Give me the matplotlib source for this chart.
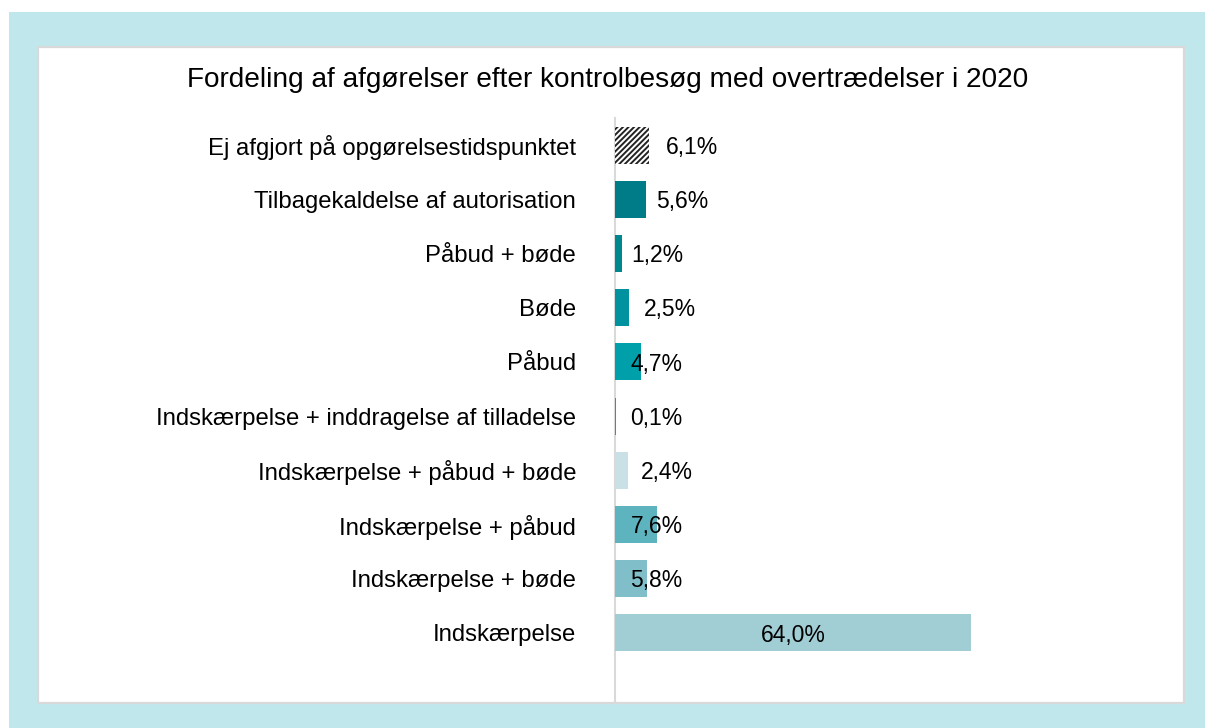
import matplotlib
matplotlib.use("Agg")
import matplotlib.pyplot as plt
from matplotlib.patches import Rectangle

plt.rcParams['font.family'] = ['Liberation Sans', 'DejaVu Sans']
plt.rcParams['hatch.linewidth'] = 1.4

title = "Fordeling af afgørelser efter kontrolbesøg med overtrædelser i 2020"
categories = [
    "Ej afgjort på opgørelsestidspunktet",
    "Tilbagekaldelse af autorisation",
    "Påbud + bøde",
    "Bøde",
    "Påbud",
    "Indskærpelse + inddragelse af tilladelse",
    "Indskærpelse + påbud + bøde",
    "Indskærpelse + påbud",
    "Indskærpelse + bøde",
    "Indskærpelse",
]
values = [6.1, 5.6, 1.2, 2.5, 4.7, 0.1, 2.4, 7.6, 5.8, 64.0]
value_labels = ["6,1%", "5,6%", "1,2%", "2,5%", "4,7%", "0,1%", "2,4%", "7,6%", "5,8%", "64,0%"]

# styling / label placement (data-unit x centres for the value labels)
colors = ["white", "#007c88", "#00868f", "#00929e", "#00a0aa", "#1a9fab",
          "#c9e1e6", "#5db4bf", "#80bfca", "#a1cdd4"]
label_x = [13.8, 12.1, 7.6, 9.9, 7.5, 7.5, 9.35, 7.5, 7.5, 32.0]

W, H = 1205, 728
fig = plt.figure(figsize=(W / 100, H / 100), dpi=100, facecolor="white")

# background frame
fig.patches.append(Rectangle((9 / W, 0), 1 - 9 / W, 1 - 12 / H, transform=fig.transFigure,
                             facecolor="#c0e8ec", edgecolor="none", zorder=-10))
fig.patches.append(Rectangle((38 / W, 1 - 703 / H), (1184 - 38) / W, (703 - 47) / H,
                             transform=fig.transFigure, facecolor="white",
                             edgecolor="#d9d9d9", linewidth=1.6, zorder=-9))

ax_l, ax_r = 615 / W, 1160 / W
ax_top, ax_bot = 118 / H, 701 / H
ax = fig.add_axes([ax_l, 1 - ax_bot, ax_r - ax_l, ax_bot - ax_top])
ax.set_facecolor("none")

y = list(range(len(categories)))
bars = ax.barh(y, values, height=0.68, color=colors, edgecolor="none", zorder=3)
bars[0].set_hatch("//////")
bars[0].set_edgecolor("#222222")
bars[0].set_linewidth(0)

px_per_unit = 54.2
span = (ax_bot - ax_top) * H / px_per_unit
ax.set_ylim(-0.5 + span, -0.5)
ax.set_xlim(0, (1160 - 615) / 5.56)

for yi, lx, lab in zip(y, label_x, value_labels):
    ax.text(lx, yi + 0.04, lab, ha="center", va="center", fontsize=16.5, color="#000000", zorder=4)

ax.set_yticks(y)
ax.set_yticklabels(categories, fontsize=17.2)
ax.tick_params(axis="y", length=0, pad=28)
ax.set_xticks([])
for s in ["top", "right", "bottom"]:
    ax.spines[s].set_visible(False)
ax.spines["left"].set_color("#d9d9d9")
ax.spines["left"].set_linewidth(1.5)
ax.spines["left"].set_zorder(2)

fig.text(608 / W, 1 - 80 / H, title, ha="center", va="center", fontsize=20.2, color="#000000")

fig.savefig("out.png", dpi=100, facecolor="white")
